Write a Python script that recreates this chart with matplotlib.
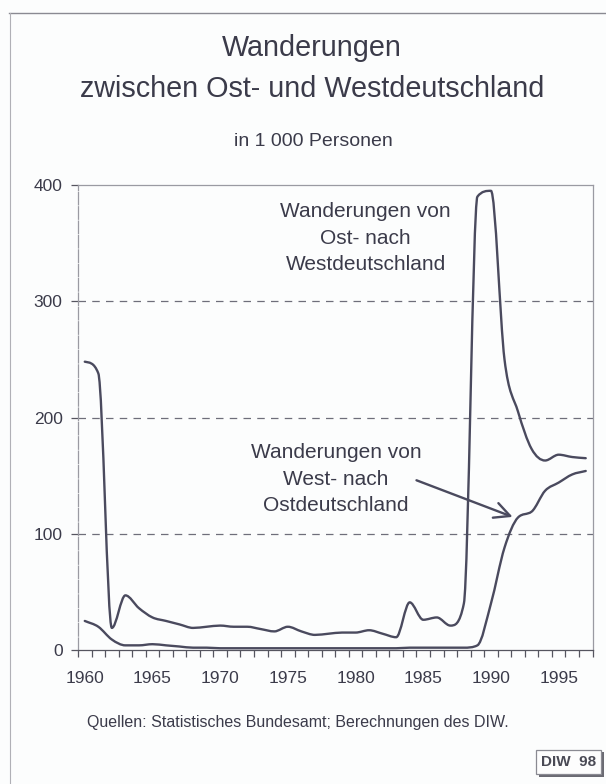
import numpy as np
import matplotlib
matplotlib.use('Agg')
import matplotlib.pyplot as plt
from matplotlib.path import Path
from matplotlib.patches import PathPatch, Rectangle, FancyArrowPatch
from matplotlib.lines import Line2D

# ---------------- data (in 1 000 Personen) ----------------
years = list(range(1960, 1998))
ost_nach_west = [248, 238, 19, 47, 36, 28, 25, 22, 19, 20,
                 21, 20, 20, 18, 16, 20, 16, 13, 14, 15,
                 15, 17, 14, 11, 41, 26, 28, 21, 40, 390,
                 395, 250, 205, 173, 163, 168, 166, 165]
west_nach_ost = [25, 20, 9, 4, 4, 5, 4, 3, 2, 2,
                 1.5, 1.5, 1.5, 1.5, 1.5, 1.5, 1.5, 1.5, 1.5, 1.5,
                 1.5, 1.5, 1.5, 1.5, 2, 2, 2, 2, 2, 4,
                 40, 88, 114, 119, 137, 144, 151, 154]
label_years = [1960, 1965, 1970, 1975, 1980, 1985, 1990, 1995]
y_ticks = [0, 100, 200, 300, 400]

title_lines = ["Wanderungen", "zwischen Ost- und Westdeutschland"]
subtitle = "in 1 000 Personen"
label_ow = "Wanderungen von\nOst- nach\nWestdeutschland"
label_wo = "Wanderungen von\nWest- nach\nOstdeutschland"
source = "Quellen: Statistisches Bundesamt; Berechnungen des DIW."
badge = "DIW  98"

TXT = '#3b3b4a'
LINE = '#4a4a5e'
W, H = 606, 784

plt.rcParams['font.family'] = ['Liberation Sans', 'DejaVu Sans']

fig = plt.figure(figsize=(W / 100, H / 100), dpi=100)
fig.patch.set_facecolor('#fcfdfd')


def fx(px):
    return px / W


def fy(py):
    return 1 - py / H


ax = fig.add_axes([fx(78), fy(650), fx(592.5) - fx(78), fy(185) - fy(650)])
ax.set_facecolor('#fcfdfd')
ax.set_xlim(1959.5, 1997.5)
ax.set_ylim(0, 400)


def smooth_path(xs, ys):
    """Fritsch-Carlson monotone cubic drawn as Bezier segments through the points."""
    xs = np.asarray(xs, float)
    ys = np.asarray(ys, float)
    n = len(xs)
    h = np.diff(xs)
    d = np.diff(ys) / h
    m = np.zeros(n)
    m[0], m[-1] = d[0], d[-1]
    for k in range(1, n - 1):
        m[k] = 0.5 * (d[k - 1] + d[k]) if d[k - 1] * d[k] > 0 else 0.0
    for k in range(n - 1):
        if d[k] == 0:
            m[k] = m[k + 1] = 0.0
            continue
        a, b = m[k] / d[k], m[k + 1] / d[k]
        s = a * a + b * b
        if s > 9:
            t = 3.0 / np.sqrt(s)
            m[k] = t * a * d[k]
            m[k + 1] = t * b * d[k]
    verts = [(xs[0], ys[0])]
    codes = [Path.MOVETO]
    for k in range(n - 1):
        hk = h[k]
        verts += [(xs[k] + hk / 3, ys[k] + m[k] * hk / 3),
                  (xs[k + 1] - hk / 3, ys[k + 1] - m[k + 1] * hk / 3),
                  (xs[k + 1], ys[k + 1])]
        codes += [Path.CURVE4] * 3
    return Path(verts, codes)


for series in (ost_nach_west, west_nach_ost):
    ax.add_patch(PathPatch(smooth_path(years, series), facecolor='none',
                           edgecolor=LINE, lw=1.7, capstyle='round',
                           joinstyle='round', zorder=3))

# grid
for v in y_ticks[1:-1]:
    ax.axhline(v, color='#6e6e7a', lw=0.9, ls=(0, (6, 5)), zorder=1)

for s in ax.spines.values():
    s.set_color('#9a9aa2')
    s.set_linewidth(0.9)
ax.spines['bottom'].set_color('#55555f')
ax.spines['left'].set_linestyle((0, (10, 1.5)))

ax.set_yticks(y_ticks)
ax.tick_params(axis='y', direction='out', length=5, width=0.9, color='#55555f',
               labelsize=12.5, labelcolor=TXT, pad=6)
ax.set_xticks(label_years)
ax.set_xticks([y - 0.5 for y in years] + [years[-1] + 0.5], minor=True)
ax.tick_params(axis='x', which='major', length=0, labelsize=12.5,
               labelcolor=TXT, pad=15)
ax.tick_params(axis='x', which='minor', direction='out', length=5,
               width=0.9, color='#55555f')

# annotations
ax.text(1980.75, 354, label_ow, ha='center', va='center', fontsize=15,
        color=TXT, linespacing=1.5)
ax.text(1978.55, 147, label_wo, ha='center', va='center', fontsize=15,
        color=TXT, linespacing=1.5)
ax.add_patch(FancyArrowPatch((1984.5, 146), (1991.6, 114.5),
                             arrowstyle='->,head_length=7,head_width=3.5',
                             color=LINE, lw=1.7, mutation_scale=1.6,
                             shrinkA=0, shrinkB=0, zorder=4))

# titles
fig.text(fx(312), fy(48), title_lines[0], ha='center', va='center',
         fontsize=20.7, color=TXT)
fig.text(fx(312), fy(89), title_lines[1], ha='center', va='center',
         fontsize=20.7, color=TXT)
fig.text(fx(313), fy(141), subtitle, ha='center', va='center',
         fontsize=14, color=TXT)
fig.text(fx(298), fy(723), source, ha='center', va='center',
         fontsize=11.5, color=TXT)

# frame lines of the page
fig.add_artist(Line2D([fx(9), fx(606)], [fy(13), fy(13)], color='#8a8a92', lw=1.0))
fig.add_artist(Line2D([fx(9.5), fx(9.5)], [fy(13), fy(784)], color='#b0b0b6', lw=0.8))

# DIW badge
fig.add_artist(Rectangle((fx(539), fy(777)), fx(604) - fx(539), fy(752) - fy(777),
                         transform=fig.transFigure, facecolor='#6a6a72',
                         edgecolor='none'))
fig.add_artist(Rectangle((fx(536), fy(774)), fx(601) - fx(536), fy(750) - fy(774),
                         transform=fig.transFigure, facecolor='#fdfdfd',
                         edgecolor='#8a8a92', lw=0.9))
fig.text(fx(568.5), fy(762.5), badge, ha='center', va='center',
         fontsize=11, fontweight='bold', color='#4a4a55')

fig.savefig('out.png', dpi=100, facecolor=fig.get_facecolor())
